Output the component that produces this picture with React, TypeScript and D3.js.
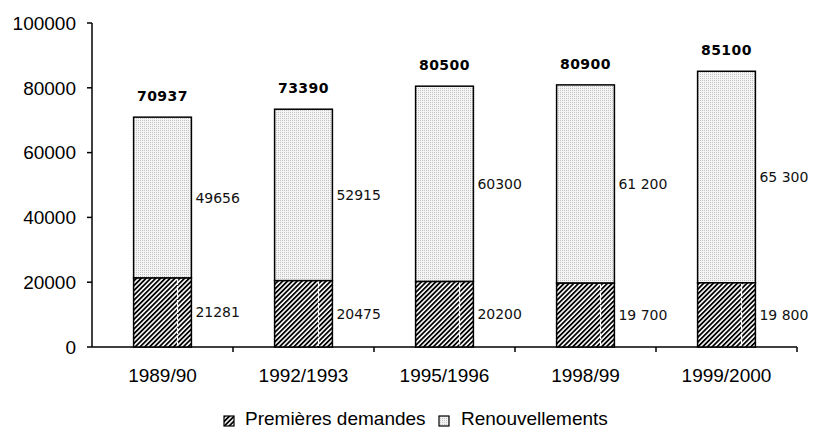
import * as d3 from 'd3';

const categories = ['1989/90', '1992/1993', '1995/1996', '1998/99', '1999/2000'];
const premieres = [21281, 20475, 20200, 19700, 19800];
const renouvellements = [49656, 52915, 60300, 61200, 65300];
const totals = [70937, 73390, 80500, 80900, 85100];
const premieresLabels = ['21281', '20475', '20200', '19 700', '19 800'];
const renouvLabels = ['49656', '52915', '60300', '61 200', '65 300'];
const yTicks = [0, 20000, 40000, 60000, 80000, 100000];
const legendLabels = ['Premières demandes', 'Renouvellements'];

const W = 813;
const H = 428;
const left = 92;
const right = 797;
const top = 23;
const bottom = 347;
const sans = 'Liberation Sans, Arial, sans-serif';

export default function App() {
  const x = d3.scaleBand<string>().domain(categories).range([left, right]).paddingInner(0.59).paddingOuter(0.295);
  const y = d3.scaleLinear().domain([0, 100000]).range([bottom, top]);
  const step = x.step();
  const bw = x.bandwidth();

  return (
    <div style={{ position: 'absolute', left: 0, top: 0 }}>
      <svg width={W} height={H} style={{ display: 'block', background: '#fff' }}>
        <defs>
          <pattern id="hatch" patternUnits="userSpaceOnUse" width="3.4" height="3.4" patternTransform="rotate(45)">
            <rect width="3.4" height="3.4" fill="#fff" />
            <line x1="0.9" y1="0" x2="0.9" y2="3.4" stroke="#000" strokeWidth="1.8" />
          </pattern>
          <pattern id="stipple" patternUnits="userSpaceOnUse" width="2" height="2">
            <rect width="2" height="2" fill="#f4f4f4" />
            <rect width="1" height="1" fill="#c4c4c4" />
          </pattern>
        </defs>

        {/* y axis */}
        <line x1={left} x2={left} y1={top} y2={bottom} stroke="#000" strokeWidth={1.5} />
        {yTicks.map((t) => (
          <g key={t}>
            <line x1={left - 5} x2={left} y1={y(t)} y2={y(t)} stroke="#000" strokeWidth={1.5} />
            <text x={left - 16} y={y(t)} dy="0.36em" textAnchor="end" fontFamily={sans} fontSize={19}>
              {t}
            </text>
          </g>
        ))}

        {/* x axis */}
        <line x1={left} x2={right} y1={bottom} y2={bottom} stroke="#000" strokeWidth={1.5} />
        {categories.map((c, i) => (
          <line key={'t' + c} x1={left + step * (i + 1)} x2={left + step * (i + 1)} y1={bottom} y2={bottom + 5} stroke="#000" strokeWidth={1.5} />
        ))}
        {categories.map((c) => (
          <text key={'l' + c} x={(x(c) ?? 0) + bw / 2} y={382} textAnchor="middle" fontFamily={sans} fontSize={19}>
            {c}
          </text>
        ))}

        {/* bars */}
        {categories.map((c, i) => {
          const bx = x(c) ?? 0;
          const y0 = y(0);
          const y1 = y(premieres[i]);
          const y2 = y(premieres[i] + renouvellements[i]);
          return (
            <g key={'b' + c}>
              <rect x={bx} y={y2} width={bw} height={y1 - y2} fill="url(#stipple)" stroke="#000" strokeWidth={1.5} />
              <rect x={bx} y={y1} width={bw} height={y0 - y1} fill="url(#hatch)" stroke="#000" strokeWidth={1.5} />
              <line x1={bx + bw * 0.76} x2={bx + bw * 0.76} y1={y1 + 1} y2={y0 - 1} stroke="#fff" strokeWidth={1.2} strokeDasharray="6 1" />
              <text x={bx + bw + 4} y={(y0 + y1) / 2} dy="0.35em" fontFamily="DejaVu Sans, sans-serif" fontSize={14} fill="#111">
                {premieresLabels[i]}
              </text>
              <text x={bx + bw + 4} y={(y1 + y2) / 2} dy="0.35em" fontFamily="DejaVu Sans, sans-serif" fontSize={14} fill="#111">
                {renouvLabels[i]}
              </text>
              <text x={bx + bw / 2} y={y(totals[i]) - 16} textAnchor="middle" fontFamily="DejaVu Sans, sans-serif" fontSize={14} fontWeight="bold" letterSpacing={0.5} fill="#000">
                {totals[i]}
              </text>
            </g>
          );
        })}

        {/* legend */}
        <g fontFamily={sans} fontSize={19}>
          <rect x={224} y={416} width={10} height={10} fill="url(#hatch)" stroke="#000" strokeWidth={1.2} />
          <text x={245} y={425}>{legendLabels[0]}</text>
          <rect x={439} y={416} width={10} height={10} fill="url(#stipple)" stroke="#000" strokeWidth={1.2} />
          <text x={461} y={425}>{legendLabels[1]}</text>
        </g>
      </svg>
    </div>
  );
}
